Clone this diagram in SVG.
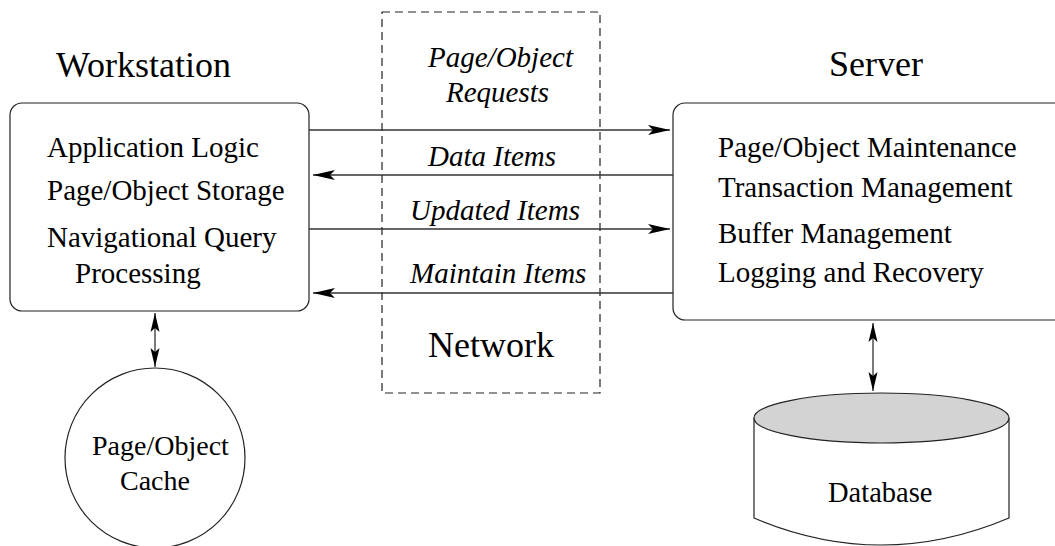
<svg xmlns="http://www.w3.org/2000/svg" width="1055" height="546" viewBox="0 0 1055 546">
  <style>
    text { font-family: "Liberation Serif", "Times New Roman", serif; fill: #000; }
    .title { font-size: 36px; }
    .body { font-size: 28px; }
    .item { font-size: 29px; }
    .msg { font-size: 29px; font-style: italic; }
    .box { fill: #fff; stroke: #222; stroke-width: 1.2; }
    .link { fill: none; stroke: #333; stroke-width: 1.3; }
  </style>
  <defs>
    <marker id="head" markerUnits="userSpaceOnUse" viewBox="0 -6 24 12" markerWidth="24" markerHeight="12" refX="22" refY="0" orient="auto-start-reverse" overflow="visible">
      <path d="M0,-5 L22,0 L0,5 L5,0 Z" fill="#000"/>
    </marker>
    <marker id="headSmall" markerUnits="userSpaceOnUse" viewBox="0 -6 22 12" markerWidth="22" markerHeight="12" refX="19" refY="0" orient="auto-start-reverse" overflow="visible">
      <path d="M0,-4.5 L19,0 L0,4.5 L4,0 Z" fill="#000"/>
    </marker>
  </defs>

  <!-- network boundary -->
  <g id="network">
    <rect x="382" y="12" width="218" height="381" fill="none" stroke="#222" stroke-width="1.2" stroke-dasharray="8 5"/>
    <text class="title" x="428" y="357">Network</text>
  </g>

  <!-- workstation -->
  <g id="workstation">
    <text class="title" x="56" y="77">Workstation</text>
    <rect class="box" x="10" y="103" width="299" height="208" rx="12" ry="12"/>
    <text class="item" x="47" y="157">Application Logic</text>
    <text class="item" x="47" y="200">Page/Object Storage</text>
    <text class="item" x="47" y="247">Navigational Query</text>
    <text class="item" x="75" y="283">Processing</text>
  </g>

  <!-- server -->
  <g id="server">
    <text class="title" x="829" y="76">Server</text>
    <rect class="box" x="673" y="103" width="420" height="217" rx="12" ry="12"/>
    <text class="item" x="718" y="157">Page/Object Maintenance</text>
    <text class="item" x="718" y="197">Transaction Management</text>
    <text class="item" x="718" y="243">Buffer Management</text>
    <text class="item" x="718" y="282">Logging and Recovery</text>
  </g>

  <!-- client cache -->
  <g id="cache">
    <circle cx="155" cy="458" r="90" fill="#fff" stroke="#222" stroke-width="1.2"/>
    <text class="body" x="92" y="455">Page/Object</text>
    <text class="body" x="120" y="490">Cache</text>
  </g>

  <!-- database cylinder -->
  <g id="database">
    <path d="M754,418 L754,518 Q881.5,572 1009,518 L1009,418" fill="#fff" stroke="#222" stroke-width="1.2"/>
    <ellipse cx="881.5" cy="418" rx="127.5" ry="25" fill="#d3d3d3" stroke="#222" stroke-width="1.2"/>
    <text class="body" x="828" y="502" style="font-size:28.5px">Database</text>
  </g>

  <!-- connectors -->
  <g id="connectors">
    <line class="link" x1="309" y1="130" x2="670" y2="130" marker-end="url(#head)"/>
    <line class="link" x1="673" y1="175" x2="313" y2="175" marker-end="url(#head)"/>
    <line class="link" x1="309" y1="229" x2="670" y2="229" marker-end="url(#head)"/>
    <line class="link" x1="673" y1="293" x2="313" y2="293" marker-end="url(#head)"/>
    <line class="link" x1="155" y1="313" x2="155" y2="367" marker-start="url(#headSmall)" marker-end="url(#headSmall)"/>
    <line class="link" x1="873" y1="323" x2="873" y2="391" marker-start="url(#headSmall)" marker-end="url(#headSmall)"/>
  </g>

  <!-- message labels -->
  <g id="labels">
    <text class="msg" x="428" y="67">Page/Object</text>
    <text class="msg" x="446" y="102">Requests</text>
    <text class="msg" x="428" y="166">Data Items</text>
    <text class="msg" x="410" y="220">Updated Items</text>
    <text class="msg" x="410" y="283">Maintain Items</text>
  </g>
</svg>
